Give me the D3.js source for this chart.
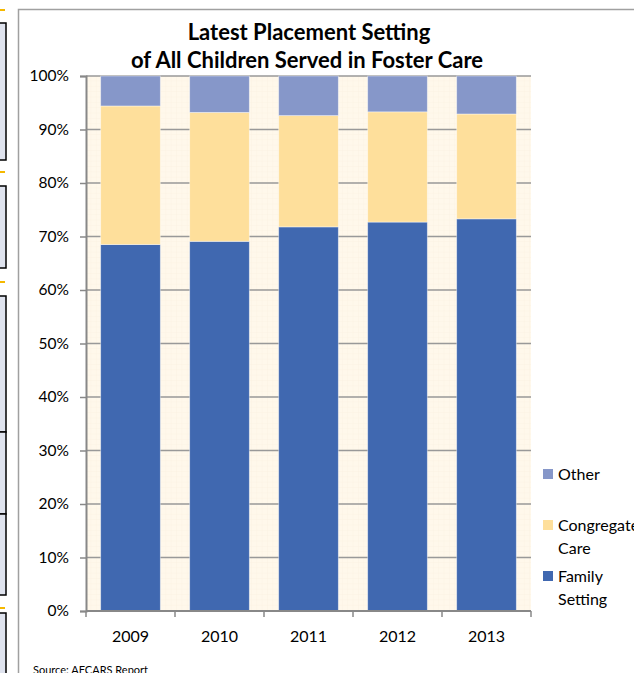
<!DOCTYPE html>
<html>
<head>
<meta charset="utf-8">
<script src="https://cdn.jsdelivr.net/npm/d3@7"></script>
<style>
  body { margin: 0; background: #fff; }
  text { font-family: Lato, "Open Sans", sans-serif; fill: #000; }
</style>
</head>
<body>
<div id="chart"></div>
<script>
// chart data
var years = ["2009", "2010", "2011", "2012", "2013"];
var familySetting = [68.5, 69.1, 71.8, 72.7, 73.3];
var congregateCare = [25.9, 24.1, 20.8, 20.6, 19.6];
var other = [5.6, 6.8, 7.4, 6.7, 7.1];
var seriesNames = ["Family Setting", "Congregate Care", "Other"];
var yTicks = [0, 10, 20, 30, 40, 50, 60, 70, 80, 90, 100];

var colors = {
  "Family Setting": "#4068B0",
  "Congregate Care": "#FEDF9B",
  "Other": "#8697C9"
};

var svgWidth = 634;
var svgHeight = 673;

var margin = { top: 76, left: 86 };
var width = 531 - margin.left;
var height = 611 - margin.top;

var svg = d3.select("#chart")
  .append("svg")
  .attr("width", svgWidth)
  .attr("height", svgHeight);

// pieces of the page around the chart (left edge boxes)
var edge = svg.append("g");
[[23, 160], [186, 268], [296, 432], [432, 514], [514, 595], [613, 690]].forEach(function(b) {
  edge.append("rect")
    .attr("x", -4).attr("y", b[0])
    .attr("width", 10).attr("height", b[1] - b[0])
    .attr("fill", "#dfe3ee")
    .attr("stroke", "#000")
    .attr("stroke-width", 1.5);
});
[10, 172, 282, 608].forEach(function(y) {
  edge.append("line")
    .attr("x1", 0).attr("x2", 5)
    .attr("y1", y).attr("y2", y)
    .attr("stroke", "#f5b800")
    .attr("stroke-width", 2);
});

// chart frame
svg.append("path")
  .attr("d", "M18.5," + svgHeight + "V9.5H" + svgWidth)
  .attr("fill", "none")
  .attr("stroke", "#a0a0a0")
  .attr("stroke-width", 1.5);

// faint grid pattern in plot background
var defs = svg.append("defs");
var pat = defs.append("pattern")
  .attr("id", "paper")
  .attr("width", 5.35)
  .attr("height", 5.35)
  .attr("patternUnits", "userSpaceOnUse");
pat.append("rect").attr("width", 5.35).attr("height", 5.35).attr("fill", "#FFF8EB");
pat.append("path")
  .attr("d", "M5.35,0V5.35H0")
  .attr("fill", "none")
  .attr("stroke", "#F8EFDD")
  .attr("stroke-width", 0.6);

var chartGroup = svg.append("g")
  .attr("transform", `translate(${margin.left}, ${margin.top})`);

chartGroup.append("rect")
  .attr("width", width)
  .attr("height", height)
  .attr("fill", "url(#paper)");

var xScale = d3.scaleBand()
  .domain(years)
  .range([0, width])
  .paddingInner(0.33)
  .paddingOuter(0.165);

var yScale = d3.scaleLinear()
  .domain([0, 100])
  .range([height, 0]);

// gridlines
chartGroup.append("g")
  .selectAll("line")
  .data(yTicks.filter(d => d > 0))
  .enter()
  .append("line")
  .attr("x1", 0)
  .attr("x2", width)
  .attr("y1", d => yScale(d))
  .attr("y2", d => yScale(d))
  .attr("stroke", "#999")
  .attr("stroke-width", 1.5);

// stacked bars
var table = years.map(function(y, i) {
  return { year: y, "Family Setting": familySetting[i], "Congregate Care": congregateCare[i], "Other": other[i] };
});
var stacked = d3.stack().keys(seriesNames)(table);

chartGroup.append("g")
  .selectAll("g")
  .data(stacked)
  .enter()
  .append("g")
  .attr("fill", d => colors[d.key])
  .selectAll("rect")
  .data(d => d)
  .enter()
  .append("rect")
  .attr("x", d => xScale(d.data.year))
  .attr("y", d => yScale(d[1]))
  .attr("width", xScale.bandwidth())
  .attr("height", d => yScale(d[0]) - yScale(d[1]))
  .attr("stroke", "#ffffff")
  .attr("stroke-opacity", 0.5)
  .attr("stroke-width", 0.8);

// y axis
var leftAxis = d3.axisLeft(yScale)
  .tickValues(yTicks)
  .tickSize(6)
  .tickPadding(11)
  .tickFormat(d => d + "%");

var yAxis = chartGroup.append("g").call(leftAxis);
yAxis.select(".domain").attr("stroke", "#888").attr("stroke-width", 2);
yAxis.selectAll(".tick line").attr("stroke", "#888").attr("stroke-width", 1.5);
yAxis.selectAll("text")
  .style("font-size", "15.5px")
  .style("font-family", "Lato, 'Open Sans', sans-serif")
  .attr("fill", "#000");

// x axis with ticks at category boundaries
var xAxisG = chartGroup.append("g")
  .attr("transform", `translate(0, ${height})`);
xAxisG.append("line")
  .attr("x1", 0).attr("x2", width)
  .attr("stroke", "#888").attr("stroke-width", 2);
var step = xScale.step();
xAxisG.selectAll(".sep")
  .data(d3.range(years.length + 1))
  .enter()
  .append("line")
  .attr("class", "sep")
  .attr("x1", d => Math.min(d * step, width))
  .attr("x2", d => Math.min(d * step, width))
  .attr("y1", 0).attr("y2", 6)
  .attr("stroke", "#888").attr("stroke-width", 1.5);
xAxisG.selectAll(".yr")
  .data(years)
  .enter()
  .append("text")
  .attr("class", "yr")
  .attr("x", d => xScale(d) + xScale.bandwidth() / 2)
  .attr("y", 31)
  .attr("text-anchor", "middle")
  .style("font-size", "16px")
  .text(d => d);

// title
var title = svg.append("text")
  .attr("text-anchor", "middle")
  .style("font-size", "22px")
  .style("font-weight", "bold");
title.append("tspan").attr("x", 309).attr("y", 40).text("Latest Placement Setting");
title.append("tspan").attr("x", 307).attr("y", 68).text("of All Children Served in Foster Care");

// legend
var legendItems = [
  { key: "Other", lines: ["Other"], y: 469 },
  { key: "Congregate Care", lines: ["Congregate", "Care"], y: 520 },
  { key: "Family Setting", lines: ["Family", "Setting"], y: 571 }
];
var legend = svg.append("g");
legendItems.forEach(function(item) {
  legend.append("rect")
    .attr("x", 543).attr("y", item.y)
    .attr("width", 10).attr("height", 10)
    .attr("fill", colors[item.key]);
  var t = legend.append("text")
    .style("font-size", "16px");
  item.lines.forEach(function(line, i) {
    t.append("tspan")
      .attr("x", 558)
      .attr("y", item.y + 11 + i * 23)
      .text(line);
  });
});

// source note
svg.append("text")
  .attr("x", 33)
  .attr("y", 674)
  .style("font-size", "11px")
  .text("Source: AFCARS Report");
</script>
</body>
</html>
